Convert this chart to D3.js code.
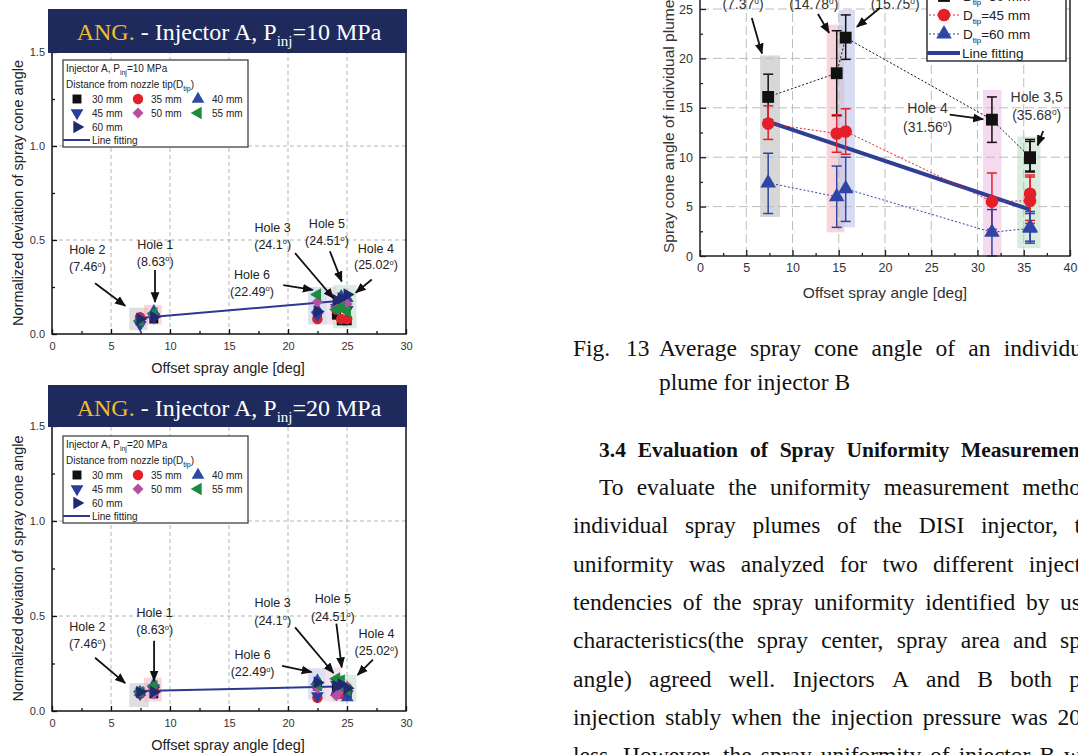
<!DOCTYPE html>
<html>
<head>
<meta charset="utf-8">
<script src="https://d3js.org/d3.v7.min.js"></script>
<style>
  html, body { margin: 0; padding: 0; background: #fff; overflow: hidden; }
</style>
</head>
<body>
<div id="page"></div>
<script>
// ---------- data ----------
var holeNames = ["Hole 2", "Hole 1", "Hole 6", "Hole 3", "Hole 5", "Hole 4"];
var holeAngles = [7.46, 8.63, 22.49, 24.1, 24.51, 25.02];
var distances = ["30 mm", "35 mm", "40 mm", "45 mm", "50 mm", "55 mm", "60 mm"];
// normalized deviation: one row per hole, one column per distance
var dev10 = [
  [0.07, 0.09, 0.08, 0.05, 0.08, 0.07, 0.08],
  [0.08, 0.10, 0.12, 0.09, 0.10, 0.11, 0.09],
  [0.09, 0.08, 0.13, 0.10, 0.17, 0.21, 0.12],
  [0.10, 0.13, 0.16, 0.14, 0.15, 0.13, 0.18],
  [0.07, 0.08, 0.20, 0.17, 0.16, 0.14, 0.19],
  [0.07, 0.08, 0.19, 0.13, 0.16, 0.12, 0.21]
];
var dev20 = [
  [0.10, 0.09, 0.10, 0.09, 0.10, 0.10, 0.10],
  [0.09, 0.12, 0.14, 0.12, 0.09, 0.13, 0.10],
  [0.13, 0.07, 0.16, 0.08, 0.12, 0.14, 0.15],
  [0.12, 0.09, 0.10, 0.14, 0.08, 0.17, 0.13],
  [0.10, 0.09, 0.15, 0.12, 0.11, 0.16, 0.14],
  [0.08, 0.10, 0.07, 0.09, 0.13, 0.11, 0.12]
];
var fit10 = [0.085, 0.18];
var fit20 = [0.105, 0.13];

// injector B (Fig. 13)
var anglesB = [7.37, 14.78, 15.75, 31.56, 35.68, 35.68];
var cone30 = [16.1, 18.5, 22.1, 13.8, 10.0, 9.9];
var low30  = [13.8, 14.2, 19.9, 11.5, 8.5, 8.6];
var high30 = [18.4, 22.8, 24.4, 16.1, 11.8, 11.6];
var cone45 = [13.4, 12.4, 12.6, 5.5, 5.6, 6.3];
var low45  = [11.8, 10.5, 10.3, 2.7, 3.3, 3.6];
var high45 = [15.2, 14.3, 14.9, 8.4, 8.2, 8.0];
var cone60 = [7.4, 6.0, 6.8, 2.4, 2.8, 2.9];
var low60  = [4.3, 2.9, 3.5, 0.0, 1.3, 1.5];
var high60 = [10.4, 9.1, 10.0, 4.7, 4.5, 4.3];
var fitB = [13.6, 4.7];

var captionLines = ["Average spray cone angle of an individu", "plume for injector B"];
var headingLine = "3.4 Evaluation of Spray Uniformity Measuremen";
var bodyLines = [
  "To evaluate the uniformity measurement metho",
  "individual spray plumes of the DISI injector, t",
  "uniformity was analyzed for two different inject",
  "tendencies of the spray uniformity identified by us",
  "characteristics(the spray center, spray area and sp",
  "angle) agreed well. Injectors A and B both p",
  "injection stably when the injection pressure was 20",
  "less. However, the spray uniformity of injector B w"
];

// ---------- setup ----------
var W = 1078, H = 755;
var svg = d3.select("#page").append("svg")
  .attr("width", W).attr("height", H)
  .style("font-family", "'Liberation Sans', Arial, sans-serif");

svg.append("defs").append("marker")
  .attr("id", "arr").attr("viewBox", "0 0 10 10")
  .attr("refX", 9).attr("refY", 5)
  .attr("markerWidth", 11).attr("markerHeight", 11)
  .attr("markerUnits", "userSpaceOnUse").attr("orient", "auto")
  .append("path").attr("d", "M0,1 L10,5 L0,9 Z").attr("fill", "#111");

var distStyle = [
  { type: d3.symbolSquare, rot: 0, color: "#111111", size: 80 },
  { type: d3.symbolCircle, rot: 0, color: "#e3202a", size: 85 },
  { type: d3.symbolTriangle, rot: 0, color: "#2f4aa5", size: 70 },
  { type: d3.symbolTriangle, rot: 180, color: "#2b3c9c", size: 70 },
  { type: d3.symbolSquare, rot: 45, color: "#b84ea4", size: 60 },
  { type: d3.symbolTriangle, rot: -90, color: "#1c8a3f", size: 70 },
  { type: d3.symbolTriangle, rot: 90, color: "#1f2a72", size: 70 }
];

function drawSymbol(g, i, cx, cy) {
  var s = distStyle[i];
  g.append("path")
    .attr("d", d3.symbol().type(s.type).size(s.size)())
    .attr("transform", "translate(" + cx + "," + cy + ") rotate(" + s.rot + ")")
    .attr("fill", s.color);
}

function degLabel(t, num) {
  t.append("tspan").text("(" + num);
  t.append("tspan").attr("font-size", "0.6em").attr("dy", "-0.6em").text("o");
  t.append("tspan").attr("dy", "0.36em").text(")");
}

// ---------- injector A charts ----------
function drawAng(cfg) {
  var x = d3.scaleLinear().domain([0, 30]).range([52, 406]);
  var y = d3.scaleLinear().domain([0, 1.5]).range([cfg.y0, cfg.y15]);
  var g = svg.append("g");

  // shaded hole boxes
  cfg.boxes.forEach(function (b) {
    g.append("rect")
      .attr("x", x(b[0])).attr("y", y(b[3]))
      .attr("width", x(b[1]) - x(b[0])).attr("height", y(b[2]) - y(b[3]))
      .attr("fill", b[4]).attr("opacity", 0.55);
  });

  // grid
  g.selectAll(".gx").data([5, 10, 15, 20, 25]).join("line")
    .attr("x1", d => x(d)).attr("x2", d => x(d))
    .attr("y1", y(0)).attr("y2", y(1.5))
    .attr("stroke", "#b5b5b5").attr("stroke-dasharray", "4,3");
  g.selectAll(".gy").data([0.5, 1.0]).join("line")
    .attr("x1", x(0)).attr("x2", x(30))
    .attr("y1", d => y(d)).attr("y2", d => y(d))
    .attr("stroke", "#b5b5b5").attr("stroke-dasharray", "4,3");

  // fit line
  g.append("line")
    .attr("x1", x(holeAngles[0])).attr("y1", y(cfg.fit[0]))
    .attr("x2", x(holeAngles[5])).attr("y2", y(cfg.fit[1]))
    .attr("stroke", "#2b3990").attr("stroke-width", 2);

  // markers, drawn distance by distance
  distances.forEach(function (dName, i) {
    holeAngles.forEach(function (a, h) {
      drawSymbol(g, i, x(a), y(cfg.values[h][i]));
    });
  });

  // frame + axes
  g.append("rect")
    .attr("x", x(0)).attr("y", y(1.5))
    .attr("width", x(30) - x(0)).attr("height", y(0) - y(1.5))
    .attr("fill", "none").attr("stroke", "#111").attr("stroke-width", 1.5);

  var ax = g.append("g").attr("transform", "translate(0," + y(0) + ")")
    .call(d3.axisBottom(x).tickValues(d3.range(0, 31, 5)).tickSize(-5).tickPadding(8));
  var axm = g.append("g").attr("transform", "translate(0," + y(0) + ")")
    .call(d3.axisBottom(x).tickValues(d3.range(2.5, 30, 5)).tickSize(-3).tickFormat(""));
  var ay = g.append("g").attr("transform", "translate(" + x(0) + ",0)")
    .call(d3.axisLeft(y).tickValues([0, 0.5, 1.0, 1.5]).tickSize(-5).tickPadding(7).tickFormat(d3.format(".1f")));
  var aym = g.append("g").attr("transform", "translate(" + x(0) + ",0)")
    .call(d3.axisLeft(y).tickValues([0.25, 0.75, 1.25]).tickSize(-3).tickFormat(""));
  [ax, axm, ay, aym].forEach(function (a) {
    a.select(".domain").remove();
    a.selectAll("line").attr("stroke", "#111").attr("stroke-width", 1.3);
    a.selectAll("text").attr("font-size", 11).attr("fill", "#333")
      .attr("font-family", "'Liberation Sans', Arial, sans-serif");
  });

  g.append("text").attr("x", 228).attr("y", cfg.y0 + 39)
    .attr("text-anchor", "middle").attr("font-size", 14.5).attr("fill", "#222")
    .text("Offset spray angle [deg]");
  g.append("text")
    .attr("transform", "translate(23," + ((cfg.y0 + cfg.y15) / 2) + ") rotate(-90)")
    .attr("text-anchor", "middle").attr("font-size", 14.5).attr("fill", "#222")
    .text("Normalized deviation of spray cone angle");

  // title banner
  g.append("rect").attr("x", 48).attr("y", cfg.bannerTop)
    .attr("width", 359).attr("height", cfg.y15 - cfg.bannerTop + 1)
    .attr("fill", "#1f2a5c");
  var t = g.append("text").attr("x", 229).attr("y", cfg.bannerTop + 31)
    .attr("text-anchor", "middle").attr("font-size", 24)
    .attr("font-family", "'Liberation Serif', 'Times New Roman', serif").attr("fill", "#fff");
  t.append("tspan").attr("fill", "#eebd2e").text("ANG.");
  t.append("tspan").text(" - Injector A, P");
  t.append("tspan").attr("font-size", 15).attr("dy", 6).text("inj");
  t.append("tspan").attr("dy", -6).text("=" + cfg.pressure + " MPa");

  // legend
  var ly = cfg.y15 + cfg.legendOff;
  var lg = g.append("g");
  lg.append("rect").attr("x", 63).attr("y", ly).attr("width", 185).attr("height", 87)
    .attr("fill", "#fff").attr("stroke", "#333").attr("stroke-width", 1.2);
  var l1 = lg.append("text").attr("x", 66).attr("y", ly + 12).attr("font-size", 10).attr("fill", "#222");
  l1.append("tspan").text("Injector A, P");
  l1.append("tspan").attr("font-size", 7).attr("dy", 3).text("inj");
  l1.append("tspan").attr("dy", -3).text("=" + cfg.pressure + " MPa");
  var l2 = lg.append("text").attr("x", 66).attr("y", ly + 28).attr("font-size", 10).attr("fill", "#222");
  l2.append("tspan").text("Distance from nozzle tip(D");
  l2.append("tspan").attr("font-size", 7).attr("dy", 3).text("tip");
  l2.append("tspan").attr("dy", -3).text(")");
  var colX = [77, 138, 198], colT = [92, 151, 212];
  distances.forEach(function (dName, i) {
    var r = Math.floor(i / 3), c = i % 3;
    var cy = ly + 39 + r * 14;
    drawSymbol(lg, i, colX[c], cy);
    lg.append("text").attr("x", colT[c]).attr("y", cy + 4).attr("font-size", 10)
      .attr("fill", "#222").text(dName);
  });
  lg.append("line").attr("x1", 63).attr("x2", 90).attr("y1", ly + 80).attr("y2", ly + 80)
    .attr("stroke", "#2b3990").attr("stroke-width", 2);
  lg.append("text").attr("x", 92).attr("y", ly + 84).attr("font-size", 10)
    .attr("fill", "#222").text("Line fitting");

  // hole labels and arrows
  cfg.notes.forEach(function (n, h) {
    var tx = x(n.tx);
    g.append("text").attr("x", tx).attr("y", y(n.ty1) + 5)
      .attr("text-anchor", "middle").attr("font-size", 12.5).attr("fill", "#222")
      .text(holeNames[h]);
    var t2 = g.append("text").attr("x", tx).attr("y", y(n.ty2) + 5)
      .attr("text-anchor", "middle").attr("font-size", 12.5).attr("fill", "#222");
    degLabel(t2, holeAngles[h]);
    g.append("line")
      .attr("x1", x(n.a[0])).attr("y1", y(n.a[1]))
      .attr("x2", x(n.a[2])).attr("y2", y(n.a[3]))
      .attr("stroke", "#111").attr("stroke-width", 1.8)
      .attr("marker-end", "url(#arr)");
  });
}

drawAng({
  y0: 334, y15: 52, bannerTop: 9, pressure: 10, legendOff: 8,
  values: dev10, fit: fit10,
  boxes: [
    [6.55, 8.1, 0.02, 0.14, "#c4c4c4"],
    [7.8, 9.3, 0.05, 0.155, "#f5b5c0"],
    [21.7, 23.3, 0.05, 0.25, "#c0c6ea"],
    [23.3, 24.1, 0.05, 0.25, "#efc9e0"],
    [23.8, 25.8, 0.03, 0.26, "#bfdcc2"]
  ],
  notes: [
    { tx: 3.0, ty1: 0.45, ty2: 0.36, a: [3.65, 0.27, 6.2, 0.15] },
    { tx: 8.75, ty1: 0.48, ty2: 0.39, a: [8.73, 0.34, 8.73, 0.17] },
    { tx: 16.95, ty1: 0.32, ty2: 0.23, a: [19.6, 0.26, 22.1, 0.235] },
    { tx: 18.7, ty1: 0.57, ty2: 0.48, a: [20.6, 0.43, 23.85, 0.19] },
    { tx: 23.3, ty1: 0.59, ty2: 0.50, a: [23.55, 0.44, 24.55, 0.28] },
    { tx: 27.45, ty1: 0.46, ty2: 0.37, a: [27.1, 0.29, 25.75, 0.22] }
  ]
});

drawAng({
  y0: 711, y15: 426, bannerTop: 385, pressure: 20, legendOff: 10,
  values: dev20, fit: fit20,
  boxes: [
    [6.55, 8.2, 0.02, 0.147, "#c4c4c4"],
    [7.8, 9.3, 0.05, 0.175, "#f5b5c0"],
    [21.7, 23.2, 0.06, 0.225, "#c0c6ea"],
    [23.2, 24.5, 0.05, 0.23, "#efc9e0"],
    [23.8, 25.8, 0.05, 0.19, "#bfdcc2"]
  ],
  notes: [
    { tx: 3.0, ty1: 0.447, ty2: 0.357, a: [3.65, 0.28, 6.2, 0.147] },
    { tx: 8.7, ty1: 0.52, ty2: 0.43, a: [8.65, 0.37, 8.65, 0.16] },
    { tx: 17.0, ty1: 0.30, ty2: 0.21, a: [19.5, 0.237, 22.0, 0.205] },
    { tx: 18.7, ty1: 0.575, ty2: 0.48, a: [20.6, 0.44, 23.85, 0.2] },
    { tx: 23.8, ty1: 0.595, ty2: 0.50, a: [24.1, 0.46, 24.55, 0.23] },
    { tx: 27.5, ty1: 0.41, ty2: 0.32, a: [27.2, 0.27, 25.9, 0.19] }
  ]
});

// ---------- injector B chart (cropped at top/right) ----------
(function () {
  var x = d3.scaleLinear().domain([0, 40]).range([700, 1070]);
  var y = d3.scaleLinear().domain([0, 25]).range([256, 9]);
  var yTop = y(27.5);
  var g = svg.append("g");

  var boxes = [
    [6.5, 8.65, 3.95, 20.3, "#bdbdbd"],
    [13.7, 15.6, 2.4, 23.4, "#f5b8c2"],
    [15.0, 16.75, 2.9, 24.9, "#bcc4ea"],
    [30.6, 32.6, 0.1, 16.8, "#ecc0e4"],
    [34.3, 36.8, 0.8, 12.1, "#bfe0c6"]
  ];
  boxes.forEach(function (b) {
    g.append("rect")
      .attr("x", x(b[0])).attr("y", y(b[3]))
      .attr("width", x(b[1]) - x(b[0])).attr("height", y(b[2]) - y(b[3]))
      .attr("fill", b[4]).attr("opacity", 0.6);
  });

  g.selectAll(".gx").data(d3.range(5, 40, 5)).join("line")
    .attr("x1", d => x(d)).attr("x2", d => x(d)).attr("y1", y(0)).attr("y2", yTop)
    .attr("stroke", "#bdbdbd").attr("stroke-dasharray", "9,4");
  g.selectAll(".gy").data(d3.range(5, 26, 5)).join("line")
    .attr("x1", x(0)).attr("x2", x(40)).attr("y1", d => y(d)).attr("y2", d => y(d))
    .attr("stroke", "#bdbdbd").attr("stroke-dasharray", "9,4");

  // fit
  g.append("line")
    .attr("x1", x(anglesB[0])).attr("y1", y(fitB[0]))
    .attr("x2", x(anglesB[5])).attr("y2", y(fitB[1]))
    .attr("stroke", "#2e3d96").attr("stroke-width", 4);

  var series = [
    { v: cone30, lo: low30, hi: high30, color: "#111", sym: d3.symbolSquare, size: 140 },
    { v: cone45, lo: low45, hi: high45, color: "#e3202a", sym: d3.symbolCircle, size: 125 },
    { v: cone60, lo: low60, hi: high60, color: "#2f45a5", sym: d3.symbolTriangle, size: 105 }
  ];
  var line = d3.line().x((d, i) => x(anglesB[i])).y(d => y(d));
  series.forEach(function (s) {
    g.append("path").attr("d", line(s.v)).attr("fill", "none")
      .attr("stroke", s.color).attr("stroke-width", 1).attr("stroke-dasharray", "2,2");
    s.v.forEach(function (v, i) {
      var cx = x(anglesB[i]);
      g.append("line").attr("x1", cx).attr("x2", cx).attr("y1", y(s.lo[i])).attr("y2", y(s.hi[i]))
        .attr("stroke", s.color).attr("stroke-width", 1.5);
      [s.lo[i], s.hi[i]].forEach(function (e) {
        g.append("line").attr("x1", cx - 5).attr("x2", cx + 5).attr("y1", y(e)).attr("y2", y(e))
          .attr("stroke", s.color).attr("stroke-width", 1.5);
      });
    });
  });
  series.forEach(function (s) {
    s.v.forEach(function (v, i) {
      g.append("path").attr("d", d3.symbol().type(s.sym).size(s.size)())
        .attr("transform", "translate(" + x(anglesB[i]) + "," + y(v) + ")")
        .attr("fill", s.color);
    });
  });

  g.append("rect").attr("x", x(0)).attr("y", yTop)
    .attr("width", x(40) - x(0)).attr("height", y(0) - yTop)
    .attr("fill", "none").attr("stroke", "#222").attr("stroke-width", 1.5);

  var ax = g.append("g").attr("transform", "translate(0," + y(0) + ")")
    .call(d3.axisBottom(x).tickValues(d3.range(0, 41, 5)).tickSize(-6).tickPadding(7));
  var axm = g.append("g").attr("transform", "translate(0," + y(0) + ")")
    .call(d3.axisBottom(x).tickValues(d3.range(2.5, 40, 5)).tickSize(-3).tickFormat(""));
  var ay = g.append("g").attr("transform", "translate(" + x(0) + ",0)")
    .call(d3.axisLeft(y).tickValues(d3.range(0, 26, 5)).tickSize(-6).tickPadding(7));
  var aym = g.append("g").attr("transform", "translate(" + x(0) + ",0)")
    .call(d3.axisLeft(y).tickValues(d3.range(2.5, 26, 5)).tickSize(-3).tickFormat(""));
  [ax, axm, ay, aym].forEach(function (a) {
    a.select(".domain").remove();
    a.selectAll("line").attr("stroke", "#222").attr("stroke-width", 1.3);
    a.selectAll("text").attr("font-size", 12.5).attr("fill", "#333")
      .attr("font-family", "'Liberation Sans', Arial, sans-serif");
  });

  g.append("text").attr("x", 885).attr("y", 298).attr("text-anchor", "middle")
    .attr("font-size", 15.5).attr("fill", "#333").text("Offset spray angle [deg]");
  g.append("text").attr("transform", "translate(674,253) rotate(-90)")
    .attr("font-size", 15.5).attr("fill", "#333").text("Spray cone angle of individual plume");

  // legend (cut by the page top)
  var lg = g.append("g");
  lg.append("rect").attr("x", 927).attr("y", -30).attr("width", 139).attr("height", 91)
    .attr("fill", "#fff").attr("stroke", "#333").attr("stroke-width", 1.5);
  var legRows = [["30 mm", -4], ["45 mm", 15], ["60 mm", 34]];
  legRows.forEach(function (r, i) {
    var s = series[i];
    lg.append("line").attr("x1", 929).attr("x2", 960).attr("y1", r[1]).attr("y2", r[1])
      .attr("stroke", s.color).attr("stroke-dasharray", "2,2");
    lg.append("path").attr("d", d3.symbol().type(s.sym).size(s.size)())
      .attr("transform", "translate(944," + r[1] + ")").attr("fill", s.color);
    var t = lg.append("text").attr("x", 963).attr("y", r[1] + 5).attr("font-size", 13.5).attr("fill", "#222");
    t.append("tspan").text("D");
    t.append("tspan").attr("font-size", 8).attr("dy", 4).text("tip");
    t.append("tspan").attr("dy", -4).text("=" + r[0]);
  });
  lg.append("line").attr("x1", 927).attr("x2", 960).attr("y1", 53).attr("y2", 53)
    .attr("stroke", "#2e3d96").attr("stroke-width", 4);
  lg.append("text").attr("x", 962).attr("y", 58).attr("font-size", 13.5).attr("fill", "#222").text("Line fitting");

  // hole notes
  var notesB = [
    { i: 0, tx: 4.65, ty: 25.55, a: [5.6, 24.1, 6.7, 20.5] },
    { i: 1, tx: 12.3, ty: 25.55, a: [12.75, 24.5, 13.95, 22.6] },
    { i: 2, tx: 21.1, ty: 25.55, a: [19.45, 25.1, 16.97, 23.2] }
  ];
  notesB.forEach(function (n) {
    var t = g.append("text").attr("x", x(n.tx)).attr("y", y(n.ty) + 5)
      .attr("text-anchor", "middle").attr("font-size", 14).attr("fill", "#333");
    degLabel(t, anglesB[n.i]);
    g.append("line").attr("x1", x(n.a[0])).attr("y1", y(n.a[1])).attr("x2", x(n.a[2])).attr("y2", y(n.a[3]))
      .attr("stroke", "#111").attr("stroke-width", 1.8).attr("marker-end", "url(#arr)");
  });
  g.append("text").attr("x", x(24.6)).attr("y", y(15.0) + 5).attr("text-anchor", "middle")
    .attr("font-size", 14).attr("fill", "#333").text("Hole 4");
  var t4b = g.append("text").attr("x", x(24.6)).attr("y", y(13.1) + 5).attr("text-anchor", "middle")
    .attr("font-size", 14).attr("fill", "#333");
  degLabel(t4b, anglesB[3]);
  g.append("line").attr("x1", x(27.0)).attr("y1", y(14.3)).attr("x2", x(30.6)).attr("y2", y(13.85))
    .attr("stroke", "#111").attr("stroke-width", 1.8).attr("marker-end", "url(#arr)");
  g.append("text").attr("x", x(36.4)).attr("y", y(16.1) + 5).attr("text-anchor", "middle")
    .attr("font-size", 14).attr("fill", "#333").text("Hole 3,5");
  var t35 = g.append("text").attr("x", x(36.4)).attr("y", y(14.3) + 5).attr("text-anchor", "middle")
    .attr("font-size", 14).attr("fill", "#333");
  degLabel(t35, anglesB[4]);
  g.append("line").attr("x1", x(37.1)).attr("y1", y(12.65)).attr("x2", x(36.5)).attr("y2", y(11.2))
    .attr("stroke", "#111").attr("stroke-width", 1.8).attr("marker-end", "url(#arr)");
})();

// ---------- page text ----------
var serif = "'Liberation Serif', 'Times New Roman', serif";
var bodySize = 23.5;
function justify(str, x0, x1, yb, weight, size) {
  var words = str.split(" ");
  var g = svg.append("g").attr("font-family", serif).attr("font-size", size || bodySize)
    .attr("font-weight", weight || "normal").attr("fill", "#111");
  var nodes = words.map(w => g.append("text").attr("y", yb).text(w));
  var widths = nodes.map(n => n.node().getComputedTextLength());
  var gap = Math.max(4, (x1 - x0 - d3.sum(widths)) / (words.length - 1));
  var xx = x0;
  nodes.forEach(function (n, i) { n.attr("x", xx); xx += widths[i] + gap; });
}
svg.append("text").attr("x", 573).attr("y", 356).attr("font-family", serif)
  .attr("font-size", bodySize).attr("fill", "#111").text("Fig.");
svg.append("text").attr("x", 626).attr("y", 356).attr("font-family", serif)
  .attr("font-size", bodySize).attr("fill", "#111").text("13");
justify(captionLines[0], 659, 1082, 356);
svg.append("text").attr("x", 659).attr("y", 390).attr("font-family", serif)
  .attr("font-size", bodySize).attr("fill", "#111").text(captionLines[1]);
justify(headingLine, 599, 1080, 457, "bold", 21.5);
var bodyBase = [495, 533, 572, 610, 648, 687, 725, 763];
bodyLines.forEach(function (l, i) {
  justify(l, i === 0 ? 599 : 573, 1081, bodyBase[i]);
});
</script>
</body>
</html>
